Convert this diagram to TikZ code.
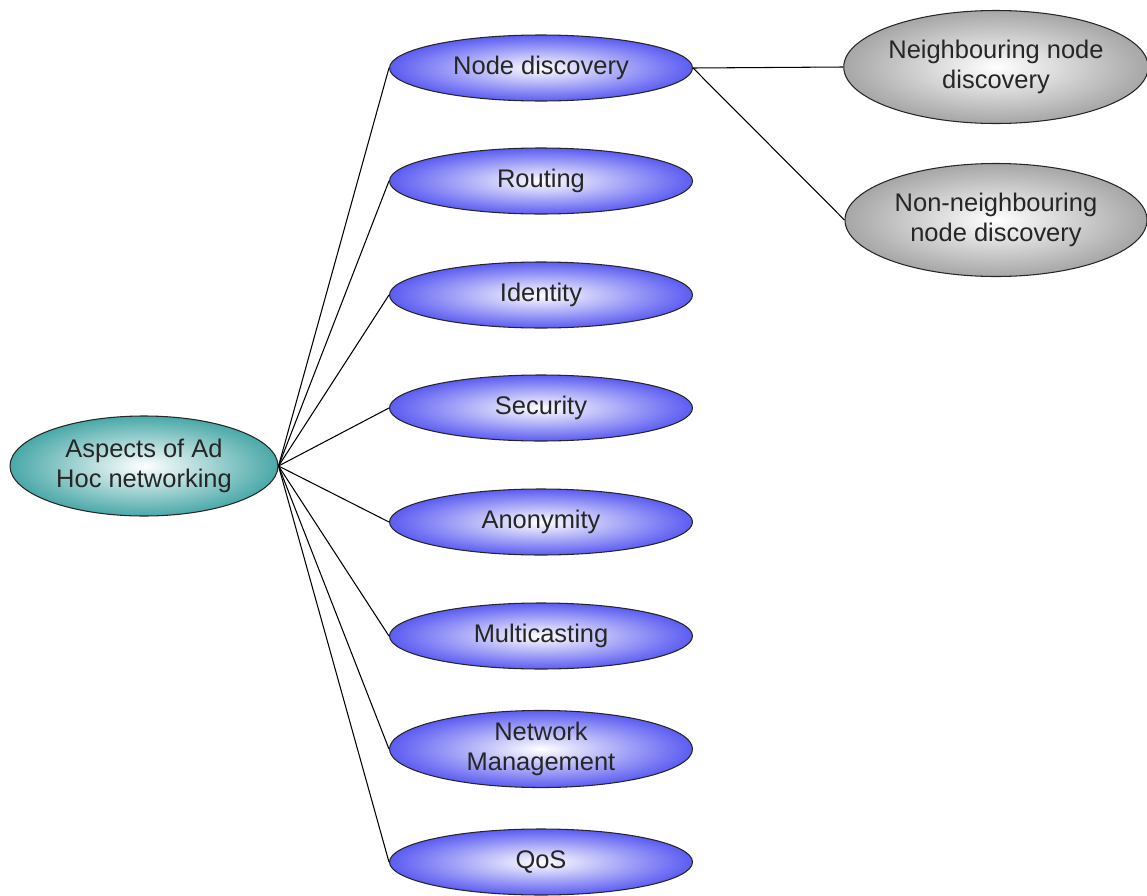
\documentclass[tikz,border=0pt]{standalone}
\usepackage{fontspec}
\setmainfont{Liberation Sans}
\usetikzlibrary{shapes.geometric}
\definecolor{blueedge}{HTML}{5C5CF2}
\definecolor{tealedge}{HTML}{4AA8A8}
\definecolor{grayedge}{HTML}{A6A6A6}
\newlength{\pxu}
\setlength{\pxu}{0.02cm}
\tikzset{
  base/.style={ellipse, draw=black!85, line width=0.6pt, inner sep=0pt, align=center,
    font=\fontsize{14.5pt}{17.5pt}\selectfont, text=black!85},
  bluebox/.style={base, minimum width=303\pxu, minimum height=66\pxu, inner color=white, outer color=blueedge},
  rootbox/.style={base, minimum width=268\pxu, minimum height=100\pxu, inner color=white, outer color=tealedge},
  graybox/.style={base, minimum width=302\pxu, minimum height=113\pxu, inner color=white, outer color=grayedge},
  link/.style={draw=black, line width=0.6pt}
}
\begin{document}
\begin{tikzpicture}[x=0.02cm,y=-0.02cm]
\useasboundingbox (0,0) rectangle (1147,896);
\node[rootbox] (root) at (144,466) {Aspects of Ad\\Hoc networking};
\node[bluebox] (nd) at (541,68) {Node discovery};
\node[bluebox] (rt) at (541,181) {Routing};
\node[bluebox] (id) at (541,295) {Identity};
\node[bluebox] (sec) at (541,408) {Security};
\node[bluebox] (an) at (541,522) {Anonymity};
\node[bluebox] (mc) at (541,636) {Multicasting};
\node[bluebox] (nm) at (541,749) {Network\\Management};
\node[bluebox] (qos) at (541,862) {QoS};
\node[graybox] (nn) at (996,67) {Neighbouring node\\discovery};
\node[graybox] (nnn) at (996,220) {Non-neighbouring\\node discovery};
\foreach \t in {nd,rt,id,sec,an,mc,nm,qos}
  \draw[link] (root.east) -- (\t.west);
\draw[link] (nd.east) -- (nn.west);
\draw[link] (nd.east) -- (nnn.west);
\end{tikzpicture}
\end{document}
